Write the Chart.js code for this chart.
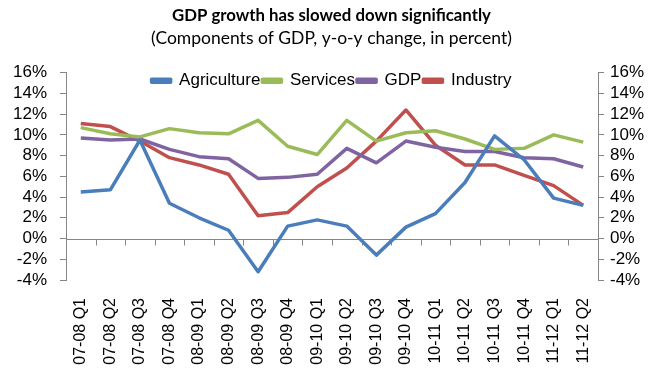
<!DOCTYPE html>
<html lang="en">
<head>
<meta charset="UTF-8">
<title>GDP growth</title>
<script src="https://cdn.jsdelivr.net/npm/chart.js"></script>
<style>
  html, body { margin: 0; padding: 0; background: #fff; }
  #wrap { width: 663px; height: 372px; }
</style>
</head>
<body>
<div id="wrap"><canvas id="gdpChart"></canvas></div>
<script>
    const quarters = ["07-08 Q1", "07-08 Q2", "07-08 Q3", "07-08 Q4",
                      "08-09 Q1", "08-09 Q2", "08-09 Q3", "08-09 Q4",
                      "09-10 Q1", "09-10 Q2", "09-10 Q3", "09-10 Q4",
                      "10-11 Q1", "10-11 Q2", "10-11 Q3", "10-11 Q4",
                      "11-12 Q1", "11-12 Q2"];
    const agriculture = [4.5, 4.7, 9.5, 3.4, 2.0, 0.8, -3.2, 1.2, 1.8, 1.2, -1.6, 1.1, 2.4, 5.4, 9.9, 7.6, 3.9, 3.2];
    const services    = [10.7, 10.1, 9.8, 10.6, 10.2, 10.1, 11.4, 8.9, 8.1, 11.4, 9.4, 10.2, 10.4, 9.6, 8.6, 8.7, 10.0, 9.3];
    const gdp         = [9.7, 9.5, 9.6, 8.6, 7.9, 7.7, 5.8, 5.9, 6.2, 8.7, 7.3, 9.4, 8.8, 8.4, 8.4, 7.8, 7.7, 6.9];
    const industry    = [11.1, 10.8, 9.4, 7.8, 7.1, 6.2, 2.2, 2.5, 5.0, 6.8, 9.4, 12.4, 9.0, 7.1, 7.1, 6.1, 5.1, 3.2];
    const yMin = -4, yMax = 16, yStep = 2;

    const axisGray = "#868686";
    const font = "'Liberation Sans', Arial, sans-serif";

    // zero line with small category ticks hanging under it
    const zeroAxis = {
        id: "zeroAxis",
        beforeDatasetsDraw(chart) {
            const { ctx, scales: { x, y } } = chart;
            const y0 = Math.round(y.getPixelForValue(0)) + 0.5;
            ctx.save();
            ctx.strokeStyle = axisGray;
            ctx.lineWidth = 1;
            ctx.beginPath();
            ctx.moveTo(x.left, y0);
            ctx.lineTo(x.right, y0);
            for (let i = 1; i < quarters.length; i++) {
                const px = Math.round((x.getPixelForValue(i - 1) + x.getPixelForValue(i)) / 2) + 0.5;
                ctx.moveTo(px, y0);
                ctx.lineTo(px, y0 + 6);
            }
            ctx.stroke();
            ctx.restore();
        }
    };

    // legend sits inside the plot, just under its top edge
    const legendInside = {
        id: "legendInside",
        afterLayout(chart) {
            const lg = chart.legend;
            if (!lg) return;
            const dy = chart.chartArea.top + 9 - (lg.top + 3 + 8.5);
            lg.top += dy;
            lg.bottom += dy;
        }
    };

    function series(label, data, color) {
        return {
            label: label,
            data: data,
            borderColor: color,
            backgroundColor: color,
            borderWidth: 3.5,
            borderJoinStyle: "round",
            pointRadius: 0,
            tension: 0,
            fill: false
        };
    }

    const yAxis = (pos, width, pad) => ({
        position: pos,
        min: yMin,
        max: yMax,
        ticks: {
            stepSize: yStep,
            autoSkip: false,
            padding: pad,
            color: "#000",
            font: { family: font, size: 17 },
            callback: v => v + "%"
        },
        grid: { display: true, drawOnChartArea: false, tickLength: 6, color: axisGray },
        border: { display: true, color: axisGray },
        afterFit: s => { s.width = width; }
    });

    new Chart(document.getElementById("gdpChart"), {
        type: "line",
        data: {
            labels: quarters,
            datasets: [
                series("Agriculture", agriculture, "#4A7EBB"),
                series("Services", services, "#9BBB59"),
                series("GDP", gdp, "#8064A2"),
                series("Industry", industry, "#C0504D")
            ]
        },
        options: {
            responsive: true,
            maintainAspectRatio: false,
            animation: false,
            layout: { padding: 0 },
            scales: {
                x: {
                    offset: true,
                    grid: { display: false },
                    border: { display: false },
                    ticks: {
                        minRotation: 90,
                        maxRotation: 90,
                        padding: 10,
                        color: "#000",
                        font: { family: font, size: 16 }
                    },
                    afterFit: s => { s.height = 92; }
                },
                y: yAxis("left", 66, 13),
                y1: yAxis("right", 65, 6)
            },
            plugins: {
                title: {
                    display: true,
                    text: "GDP growth has slowed down significantly",
                    color: "#000",
                    font: { family: "Lato, sans-serif", size: 16.8, weight: "bold" },
                    padding: { top: 6, bottom: 0 }
                },
                subtitle: {
                    display: true,
                    text: "(Components of GDP, y-o-y change, in percent)",
                    color: "#000",
                    font: { family: "Lato, sans-serif", size: 17.5 },
                    padding: { top: 1.5, bottom: -5 }
                },
                legend: {
                    position: "top",
                    align: "center",
                    labels: {
                        color: "#000",
                        font: { family: font, size: 17 },
                        boxWidth: 19,
                        boxHeight: 3,
                        padding: 2
                    }
                },
                tooltip: { enabled: false }
            }
        },
        plugins: [zeroAxis, legendInside]
    });
</script>
</body>
</html>
